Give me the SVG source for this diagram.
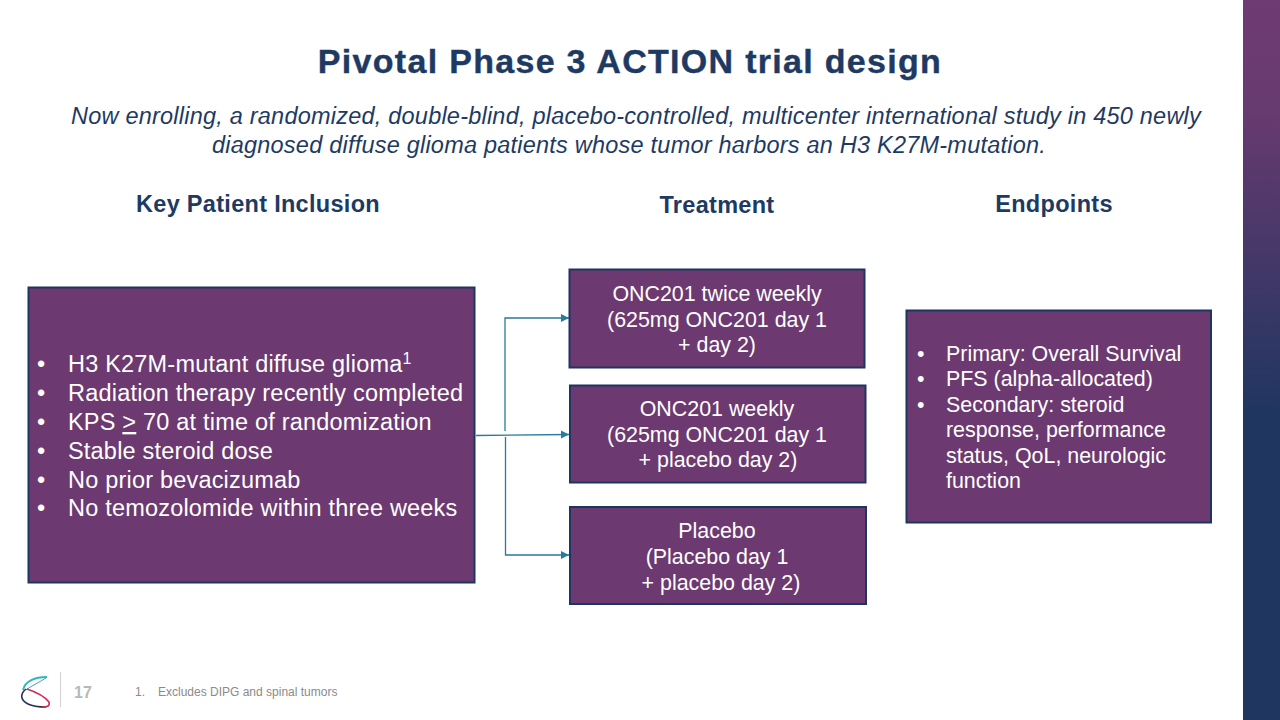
<svg xmlns="http://www.w3.org/2000/svg" width="1280" height="720" viewBox="0 0 1280 720">
<style>
text{font-family:"Liberation Sans",Arial,sans-serif}
.box{fill:#6c3a70;stroke:#1e3560;stroke-width:2}
.w{fill:#fff;font-size:21.4px}
.l{fill:#fff;font-size:23.5px;letter-spacing:.2px}
.m{text-anchor:middle}
.h{fill:#1e3a63;font-size:23.5px;font-weight:bold;text-anchor:middle;letter-spacing:.3px}
.i{fill:#1e3a63;font-size:23.5px;font-style:italic;text-anchor:middle;letter-spacing:.22px}
.c{fill:none;stroke:#2a7a9c;stroke-width:1.3}
</style>
<defs>
<linearGradient id="g" x1="0" y1="0" x2="0" y2="1"><stop offset="0" stop-color="#6e3b72"/><stop offset=".15" stop-color="#683a70"/><stop offset=".58" stop-color="#1e3660"/><stop offset="1" stop-color="#1e3660"/></linearGradient>
<marker id="a" markerUnits="userSpaceOnUse" markerWidth="9" markerHeight="9" refX="8" refY="4.500" orient="auto"><path d="M0 .5L8 4.500L0 8.500Z" fill="#2a7a9c"/></marker>
</defs>
<rect width="1280" height="720" fill="#fff"/>
<rect x="1243" width="37" height="720" fill="url(#g)"/>
<text x="630" y="73" text-anchor="middle" fill="#1e3a63" font-size="34" font-weight="bold" letter-spacing="1.300" stroke="#1e3a63" stroke-width=".4">Pivotal Phase 3 ACTION trial design</text>
<text class="i" x="636" y="124">Now enrolling, a randomized, double-blind, placebo-controlled, multicenter international study in 450 newly</text>
<text class="i" x="629" y="153">diagnosed diffuse glioma patients whose tumor harbors an H3 K27M-mutation.</text>
<text class="h" x="258" y="212">Key Patient Inclusion</text>
<text class="h" x="717" y="213">Treatment</text>
<text class="h" x="1054" y="212">Endpoints</text>
<g id="connectors">
<path class="c" d="M476 435.500L569 434.500" marker-end="url(#a)"/>
<path class="c" d="M505 431V318H569" marker-end="url(#a)"/>
<path class="c" d="M505.500 437V555H569" marker-end="url(#a)"/>
</g>
<g id="inclusion">
<rect class="box" x="28.500" y="287.500" width="446" height="295"/>
<text class="l" x="37" y="372">•</text><text class="l" x="68" y="372">H3 K27M-mutant diffuse glioma<tspan font-size="16" dy="-8">1</tspan></text>
<text class="l" x="37" y="401">•</text><text class="l" x="68" y="401">Radiation therapy recently completed</text>
<text class="l" x="37" y="430">•</text><text class="l" x="68" y="430">KPS <tspan text-decoration="underline">&gt;</tspan> 70 at time of randomization</text>
<text class="l" x="37" y="459">•</text><text class="l" x="68" y="459">Stable steroid dose</text>
<text class="l" x="37" y="488">•</text><text class="l" x="68" y="488">No prior bevacizumab</text>
<text class="l" x="37" y="516">•</text><text class="l" x="68" y="516">No temozolomide within three weeks</text>
</g>
<g id="arm1">
<rect class="box" x="569.500" y="269.500" width="295" height="98"/>
<text class="w m" x="717" y="301">ONC201 twice weekly</text>
<text class="w m" x="717" y="327">(625mg ONC201 day 1</text>
<text class="w m" x="717" y="352">+ day 2)</text>
</g>
<g id="arm2">
<rect class="box" x="570" y="385.500" width="295.500" height="97"/>
<text class="w m" x="717" y="416">ONC201 weekly</text>
<text class="w m" x="717" y="442">(625mg ONC201 day 1</text>
<text class="w m" x="718" y="467">+ placebo day 2)</text>
</g>
<g id="arm3">
<rect class="box" x="570" y="507" width="296" height="97"/>
<text class="w m" x="717" y="538">Placebo</text>
<text class="w m" x="717" y="564">(Placebo day 1</text>
<text class="w m" x="721" y="590">+ placebo day 2)</text>
</g>
<g id="endpoints">
<rect class="box" x="906.500" y="310.500" width="304.500" height="212"/>
<text class="w" x="917" y="361">•</text><text class="w" x="946" y="361">Primary: Overall Survival</text>
<text class="w" x="917" y="386">•</text><text class="w" x="946" y="386">PFS (alpha-allocated)</text>
<text class="w" x="917" y="412">•</text><text class="w" x="946" y="412">Secondary: steroid</text>
<text class="w" x="946" y="437">response, performance</text>
<text class="w" x="946" y="463">status, QoL, neurologic</text>
<text class="w" x="946" y="488">function</text>
</g>
<g id="footer">
<path d="M47 677C35 677 25 681 23 690" fill="none" stroke="#2cb5c0" stroke-width="1.800"/>
<path d="M46 678C38 683 31 686 26 690" fill="none" stroke="#3fa7b5" stroke-width="1"/>
<path d="M26 689C20 694 20 700 28 704C34 707 40 707 46 707" fill="none" stroke="#27304f" stroke-width="1.600"/>
<path d="M27 689C36 692 45 697 49 702C50 706 48 707 42 707" fill="none" stroke="#cf2a55" stroke-width="1.600"/>
<line x1="60.500" y1="672" x2="60.500" y2="707" stroke="#d8d4d4" stroke-width="1.200"/>
<text x="74" y="698" fill="#b8b8b8" font-size="16" font-weight="bold">17</text>
<text x="135" y="696" fill="#8a8a8a" font-size="12">1.</text>
<text x="158" y="696" fill="#8a8a8a" font-size="12">Excludes DIPG and spinal tumors</text>
</g>
</svg>
